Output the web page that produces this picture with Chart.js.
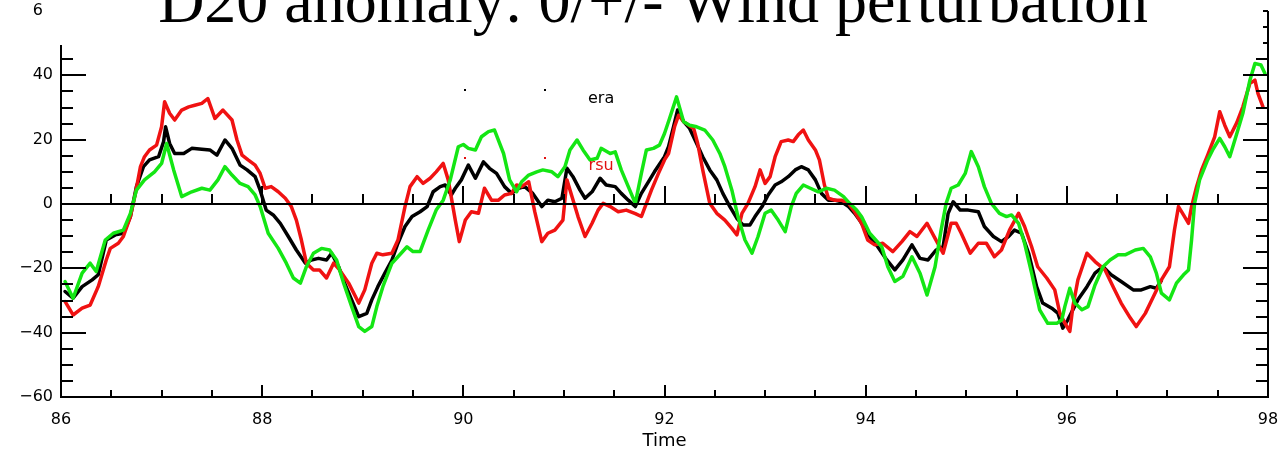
<!DOCTYPE html>
<html>
<head>
<meta charset="utf-8">
<title>D20 anomaly</title>
<script src="https://cdn.jsdelivr.net/npm/chart.js@4.4.1/dist/chart.umd.min.js"></script>
<style>
    html, body { margin: 0; padding: 0; background: #fff; }
    canvas { display: block; }
</style>
</head>
<body>
<canvas id="graficoD20" width="1281" height="453"></canvas>
<script>
// ===================================== Datos: [tiempo, anomalia D20] ==================
const serieEra = [
    [86.04,-27.2],[86.12,-29.3],[86.21,-25.7],[86.31,-23.6],[86.37,-22.0],[86.45,-11.2],[86.54,-9.6],[86.62,-9.1],
    [86.69,-3.9],[86.75,5.4],[86.82,11.6],[86.88,13.7],[86.97,14.7],[87.02,19.4],[87.04,24.0],[87.08,18.8],
    [87.13,15.7],[87.22,15.7],[87.30,17.3],[87.40,17.0],[87.48,16.8],[87.55,15.2],[87.63,19.9],[87.70,17.3],
    [87.78,12.1],[87.85,10.6],[87.93,8.5],[87.98,4.3],[88.04,-1.9],[88.11,-3.4],[88.18,-6.0],[88.26,-10.1],
    [88.34,-14.3],[88.43,-18.4],[88.49,-17.4],[88.56,-16.9],[88.64,-17.4],[88.69,-15.3],[88.76,-19.5],[88.82,-24.6],
    [88.89,-29.8],[88.96,-35.0],[89.04,-34.0],[89.09,-29.8],[89.15,-25.7],[89.22,-21.5],[89.29,-17.4],[89.35,-12.2],
    [89.42,-7.0],[89.49,-3.9],[89.57,-2.4],[89.64,-0.8],[89.70,3.8],[89.77,5.4],[89.82,5.9],[89.88,2.8],
    [89.92,4.9],[89.98,7.5],[90.05,12.1],[90.12,8.0],[90.20,13.1],[90.26,11.1],[90.33,9.5],[90.41,5.4],
    [90.48,3.3],[90.55,4.9],[90.61,5.4],[90.69,3.3],[90.78,-0.8],[90.84,1.2],[90.91,0.7],[90.98,1.8],
    [91.03,11.1],[91.09,8.5],[91.16,4.3],[91.21,1.8],[91.28,3.8],[91.36,8.0],[91.42,5.9],[91.51,5.4],
    [91.57,3.3],[91.64,1.2],[91.71,-0.8],[91.77,3.3],[91.84,6.9],[91.90,10.0],[92.00,14.7],[92.04,17.8],
    [92.09,24.0],[92.13,29.2],[92.19,25.6],[92.25,23.5],[92.32,18.8],[92.38,14.7],[92.45,10.6],[92.52,7.5],
    [92.58,3.3],[92.65,-0.8],[92.72,-4.5],[92.78,-6.5],[92.85,-6.5],[92.90,-3.9],[92.97,-0.8],[93.03,2.8],
    [93.10,5.9],[93.16,6.9],[93.23,8.5],[93.30,10.6],[93.36,11.6],[93.43,10.6],[93.50,7.5],[93.56,3.3],
    [93.63,1.2],[93.69,1.2],[93.76,0.7],[93.83,-0.8],[93.89,-2.9],[93.94,-5.0],[94.04,-10.1],[94.12,-13.3],
    [94.21,-17.4],[94.29,-20.5],[94.37,-17.4],[94.46,-12.7],[94.54,-16.9],[94.62,-17.4],[94.70,-14.3],[94.77,-13.3],
    [94.82,-2.9],[94.87,0.7],[94.94,-1.9],[95.02,-1.9],[95.12,-2.4],[95.18,-7.0],[95.27,-10.1],[95.35,-11.7],
    [95.42,-10.1],[95.48,-8.1],[95.55,-9.1],[95.62,-15.3],[95.70,-25.7],[95.76,-30.8],[95.85,-32.4],[95.91,-33.9],
    [95.96,-38.6],[96.01,-36.0],[96.11,-29.8],[96.20,-25.7],[96.28,-21.5],[96.36,-19.5],[96.44,-22.0],[96.54,-24.1],
    [96.66,-26.7],[96.74,-26.7],[96.83,-25.7],[96.89,-26.2],[96.94,-23.8]
];

const serieRsu = [
    [86.04,-30.3],[86.12,-34.5],[86.21,-32.4],[86.29,-31.4],[86.37,-25.7],[86.45,-17.4],[86.49,-13.8],[86.57,-12.2],
    [86.62,-10.1],[86.69,-3.9],[86.74,3.3],[86.79,11.6],[86.83,14.7],[86.88,16.8],[86.95,18.3],[87.00,24.0],
    [87.03,31.8],[87.08,28.2],[87.13,26.1],[87.20,29.2],[87.27,30.2],[87.33,30.7],[87.40,31.3],[87.46,32.8],
    [87.53,26.6],[87.61,29.2],[87.70,26.1],[87.75,19.9],[87.80,15.2],[87.86,13.7],[87.93,12.1],[87.98,9.5],
    [88.03,4.9],[88.09,5.4],[88.16,3.8],[88.23,1.8],[88.29,-0.8],[88.34,-5.0],[88.39,-11.2],[88.44,-18.4],
    [88.51,-20.5],[88.57,-20.5],[88.64,-23.0],[88.71,-18.4],[88.77,-20.5],[88.86,-24.6],[88.96,-30.8],[89.02,-26.7],
    [89.09,-18.4],[89.14,-15.3],[89.20,-15.8],[89.29,-15.3],[89.35,-11.2],[89.42,-0.8],[89.47,5.4],[89.54,8.5],
    [89.60,6.4],[89.67,8.0],[89.73,10.0],[89.80,12.6],[89.85,7.5],[89.92,-5.0],[89.96,-11.7],[90.02,-5.0],
    [90.08,-2.4],[90.15,-2.9],[90.21,4.9],[90.28,1.2],[90.35,1.2],[90.41,2.8],[90.48,3.3],[90.53,5.9],
    [90.58,5.4],[90.65,6.9],[90.71,-2.4],[90.78,-11.7],[90.84,-9.1],[90.91,-8.1],[90.99,-5.0],[91.03,7.5],
    [91.08,2.3],[91.14,-3.9],[91.21,-10.1],[91.28,-6.0],[91.34,-1.9],[91.39,0.2],[91.46,-0.8],[91.54,-2.4],
    [91.62,-1.9],[91.71,-3.0],[91.77,-3.9],[91.82,0.2],[91.87,4.3],[91.94,9.5],[92.00,13.7],[92.04,15.7],
    [92.10,24.0],[92.14,27.6],[92.19,25.6],[92.24,24.5],[92.29,23.5],[92.33,18.8],[92.38,10.6],[92.45,0.2],
    [92.52,-2.9],[92.60,-5.0],[92.67,-7.6],[92.72,-9.6],[92.77,-2.9],[92.83,0.2],[92.90,5.4],[92.95,10.6],
    [93.00,6.4],[93.05,8.5],[93.10,14.7],[93.16,19.4],[93.23,19.9],[93.28,19.4],[93.33,21.5],[93.38,23.0],
    [93.43,19.9],[93.50,16.8],[93.54,13.7],[93.59,5.9],[93.63,1.8],[93.69,1.2],[93.76,1.2],[93.83,0.2],
    [93.89,-2.4],[93.96,-6.0],[94.02,-11.2],[94.09,-12.7],[94.17,-12.2],[94.27,-14.8],[94.36,-11.7],[94.44,-8.6],
    [94.51,-10.1],[94.61,-6.0],[94.69,-10.7],[94.77,-15.3],[94.85,-6.0],[94.90,-6.0],[94.95,-9.1],[95.04,-15.3],
    [95.12,-12.2],[95.20,-12.2],[95.28,-16.4],[95.35,-14.3],[95.43,-8.1],[95.52,-2.9],[95.58,-7.0],[95.65,-13.3],
    [95.71,-19.5],[95.80,-23.0],[95.88,-26.7],[95.93,-33.9],[95.98,-37.0],[96.03,-39.6],[96.06,-31.9],[96.11,-23.6],
    [96.20,-15.3],[96.28,-17.9],[96.38,-20.5],[96.46,-25.7],[96.54,-30.8],[96.63,-35.4],[96.69,-38.1],[96.78,-34.0],
    [96.86,-28.8],[96.94,-23.6],[97.02,-19.5],[97.07,-8.1],[97.11,-0.8],[97.16,-3.4],[97.21,-6.0],[97.24,-0.8],
    [97.29,5.4],[97.34,10.6],[97.40,15.2],[97.47,20.9],[97.52,28.7],[97.57,24.5],[97.62,20.9],[97.69,25.3],
    [97.75,30.2],[97.82,37.5],[97.87,38.5],[97.90,34.4],[97.95,30.2]
];

const serieViento = [
    [86.04,-24.1],[86.12,-29.3],[86.21,-21.5],[86.29,-18.4],[86.35,-21.0],[86.44,-11.2],[86.52,-9.1],[86.62,-8.1],
    [86.69,-2.9],[86.75,4.3],[86.83,7.5],[86.93,10.0],[87.00,12.6],[87.05,18.8],[87.12,10.6],[87.20,2.3],
    [87.30,3.8],[87.40,4.9],[87.48,4.3],[87.56,7.5],[87.63,11.6],[87.70,9.0],[87.78,6.4],[87.86,5.4],
    [87.93,2.8],[87.98,-0.8],[88.06,-9.1],[88.16,-13.8],[88.24,-18.4],[88.31,-23.0],[88.38,-24.6],[88.44,-19.5],
    [88.51,-15.3],[88.59,-13.8],[88.67,-14.3],[88.74,-17.4],[88.81,-24.6],[88.89,-31.9],[88.96,-38.1],[89.02,-39.6],
    [89.09,-38.1],[89.14,-31.9],[89.20,-25.7],[89.29,-18.4],[89.35,-16.4],[89.44,-13.3],[89.50,-14.8],[89.57,-14.8],
    [89.65,-8.1],[89.73,-1.9],[89.80,1.2],[89.87,7.5],[89.95,17.8],[90.00,18.5],[90.05,17.3],[90.12,16.8],
    [90.18,20.9],[90.25,22.5],[90.31,23.0],[90.40,15.7],[90.46,7.5],[90.53,3.8],[90.58,6.9],[90.65,9.0],
    [90.73,10.0],[90.79,10.6],[90.88,10.0],[90.94,8.5],[91.01,11.6],[91.06,16.8],[91.13,19.9],[91.19,16.8],
    [91.26,13.7],[91.33,14.2],[91.37,17.3],[91.46,15.7],[91.51,16.2],[91.57,10.6],[91.64,5.4],[91.71,0.2],
    [91.77,9.5],[91.82,16.8],[91.89,17.3],[91.95,18.3],[92.00,21.9],[92.05,26.6],[92.12,33.3],[92.19,25.6],
    [92.25,24.5],[92.32,24.0],[92.40,23.0],[92.48,19.9],[92.55,15.7],[92.60,11.6],[92.67,4.3],[92.73,-3.9],
    [92.80,-11.2],[92.87,-15.3],[92.93,-10.1],[93.00,-2.9],[93.06,-1.9],[93.13,-5.0],[93.20,-8.6],[93.26,-0.8],
    [93.31,3.3],[93.38,5.9],[93.45,4.9],[93.53,3.8],[93.61,4.9],[93.69,4.3],[93.78,2.3],[93.84,0.2],
    [93.91,-1.9],[93.96,-4.0],[94.04,-9.1],[94.16,-13.3],[94.22,-19.5],[94.29,-24.1],[94.37,-22.5],[94.46,-16.4],
    [94.54,-21.5],[94.61,-28.3],[94.69,-19.5],[94.75,-8.1],[94.80,0.2],[94.85,4.9],[94.92,5.9],[94.99,9.5],
    [95.05,16.3],[95.12,11.6],[95.18,5.4],[95.25,0.2],[95.33,-2.9],[95.40,-3.9],[95.45,-3.4],[95.52,-6.0],
    [95.58,-12.2],[95.65,-21.5],[95.73,-32.9],[95.81,-37.1],[95.90,-37.1],[95.95,-36.0],[95.98,-31.9],[96.03,-26.2],
    [96.08,-30.8],[96.15,-32.9],[96.21,-31.9],[96.28,-25.2],[96.36,-19.5],[96.43,-17.4],[96.51,-15.8],[96.58,-15.8],
    [96.68,-14.3],[96.76,-13.8],[96.83,-16.4],[96.89,-21.5],[96.94,-27.7],[97.02,-29.8],[97.09,-24.6],[97.16,-22.0],
    [97.21,-20.5],[97.24,-11.2],[97.27,0.2],[97.32,7.5],[97.40,13.7],[97.45,16.8],[97.52,20.4],[97.57,17.8],
    [97.62,14.7],[97.69,21.9],[97.75,28.2],[97.82,38.5],[97.87,43.7],[97.93,43.2],[97.97,40.6]
];

// ticks de los ejes
const ticksTiempo = [86, 88, 90, 92, 94, 96, 98];
const ticksAnomalia = [-60, -40, -20, 0, 20, 40, 60];

const titulo = 'D20 anomaly: 0/+/- Wind perturbation';
const leyendaTextos = ['era', 'rsu'];


// ===================================== Utilidades ==================
function aPuntos(serie) {
    return serie.map(p => ({ x: p[0], y: p[1] }));
}

function linea(ctx, x1, y1, x2, y2) {
    ctx.moveTo(x1, y1);
    ctx.lineTo(x2, y2);
}


// ===================================== Ejes estilo IDL (ticks hacia adentro) ==================
const pluginEjes = {
    id: 'ejesIDL',
    afterDatasetsDraw(chart) {
        const { ctx, chartArea: a, scales: { x, y } } = chart;
        ctx.save();
        ctx.strokeStyle = '#000';
        ctx.lineWidth = 2;
        ctx.lineCap = 'butt';
        ctx.beginPath();

        // marco: izquierda, abajo, derecha
        linea(ctx, a.left, a.top, a.left, a.bottom + 1);
        linea(ctx, a.left - 1, a.bottom, a.right + 1, a.bottom);
        linea(ctx, a.right, a.top, a.right, a.bottom + 1);

        // ticks del eje Y cada 5, mayores cada 20
        for (let v = ticksAnomalia[0]; v <= ticksAnomalia[ticksAnomalia.length - 1]; v += 5) {
            const py = Math.round(y.getPixelForValue(v));
            const largo = v % 20 === 0 ? 25 : 12;
            linea(ctx, a.left, py, a.left + largo, py);
            linea(ctx, a.right, py, a.right - largo, py);
        }

        // ticks del eje X cada medio año, mayores cada 2
        const y0 = Math.round(y.getPixelForValue(0));
        for (let t = ticksTiempo[0]; t <= ticksTiempo[ticksTiempo.length - 1]; t += 0.5) {
            const px = Math.round(x.getPixelForValue(t));
            const mayor = ticksTiempo.includes(t);
            linea(ctx, px, a.bottom, px, a.bottom - (mayor ? 12 : 7));
            linea(ctx, px, y0, px, y0 - (mayor ? 18 : 10));
        }
        ctx.stroke();

        // linea del cero
        ctx.beginPath();
        linea(ctx, a.left, y0, a.right, y0);
        ctx.stroke();
        ctx.restore();
    },
    afterDraw(chart) {
        const { ctx, chartArea: a, scales: { x, y } } = chart;
        const opts = chart.options.plugins.ejesIDL;
        ctx.save();

        // leyenda dentro del grafico (texto + dos puntos de muestra)
        ctx.font = '16px "DejaVu Sans"';
        ctx.textAlign = 'center';
        ctx.textBaseline = 'middle';
        opts.leyenda.forEach((l, i) => {
            ctx.fillStyle = l.color;
            ctx.fillText(leyendaTextos[i], x.getPixelForValue(l.t), y.getPixelForValue(l.v));
            l.puntos.forEach(tp => {
                ctx.fillRect(Math.round(x.getPixelForValue(tp)) - 1, Math.round(y.getPixelForValue(l.vPunto)) - 1, 2, 2);
            });
        });

        // caja blanca del titulo que tapa el borde superior
        ctx.fillStyle = '#fff';
        ctx.fillRect(a.left - 19, 0, a.right - a.left + 14, 45);

        ctx.fillStyle = '#000';
        ctx.font = '64px "Liberation Serif"';
        ctx.textAlign = 'center';
        ctx.textBaseline = 'alphabetic';
        ctx.fillText(titulo, 653, 22);
        ctx.restore();
    }
};


// ===================================== Grafico ==================
var chartD20 = new Chart(document.getElementById('graficoD20'), {
    type: 'line',
    data: {
        datasets: [
            { label: 'era', data: aPuntos(serieEra), borderColor: '#000000', order: 2 },
            { label: 'rsu', data: aPuntos(serieRsu), borderColor: '#f01212', order: 1 },
            { label: 'wind', data: aPuntos(serieViento), borderColor: '#14e614', order: 0 }
        ]
    },
    options: {
        responsive: false,
        animation: false,
        devicePixelRatio: 1,
        layout: { padding: { left: 0, right: 13, top: 11, bottom: 0 } },
        elements: {
            line: { borderWidth: 3.5, tension: 0, borderJoinStyle: 'round', borderCapStyle: 'round', fill: false },
            point: { radius: 0, hoverRadius: 0 }
        },
        plugins: {
            legend: { display: false },
            tooltip: { enabled: false },
            ejesIDL: {
                leyenda: [
                    { color: '#000', t: 91.37, v: 32.6, puntos: [90.02, 90.81], vPunto: 35.4 },
                    { color: '#e01010', t: 91.37, v: 11.8, puntos: [90.02, 90.81], vPunto: 14.3 }
                ]
            }
        },
        scales: {
            x: {
                type: 'linear',
                min: ticksTiempo[0],
                max: ticksTiempo[ticksTiempo.length - 1],
                afterBuildTicks: s => { s.ticks = ticksTiempo.map(v => ({ value: v })); },
                // altura fija y sin margen extra por las etiquetas de los extremos
                afterFit: s => { s.height = 56; s.paddingLeft = 0; s.paddingRight = 0; },
                ticks: { color: '#000', font: { family: 'DejaVu Sans', size: 16 }, padding: 13, maxRotation: 0 },
                grid: { display: false, drawTicks: false },
                border: { display: false },
                title: {
                    display: true,
                    text: 'Time',
                    color: '#000',
                    font: { family: 'DejaVu Sans', size: 18 },
                    padding: { top: 0, bottom: 1 }
                }
            },
            y: {
                min: ticksAnomalia[0],
                max: ticksAnomalia[ticksAnomalia.length - 1],
                afterBuildTicks: s => { s.ticks = ticksAnomalia.map(v => ({ value: v })); },
                afterFit: s => { s.width = 61; s.paddingTop = 0; s.paddingBottom = 0; },
                ticks: {
                    color: '#000',
                    font: { family: 'DejaVu Sans', size: 16 },
                    padding: 8,
                    callback: v => String(v).replace('-', '\u2212')
                },
                grid: { display: false, drawTicks: false },
                border: { display: false }
            }
        }
    },
    plugins: [pluginEjes]
});
</script>
</body>
</html>
